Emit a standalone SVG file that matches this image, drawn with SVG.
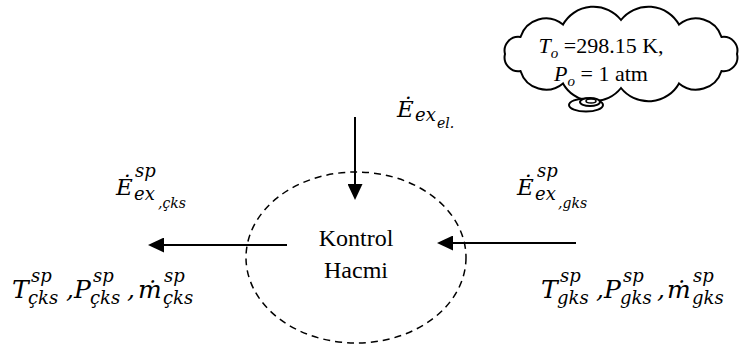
<svg xmlns="http://www.w3.org/2000/svg" width="747" height="347" viewBox="0 0 747 347">
<style>
.ln{stroke:#000;stroke-width:2;fill:none}
.rm{fill:#000;font-family:Liberation Serif, Times New Roman, serif}
.mt{font-style:italic;fill:#000;font-family:DejaVu Serif, Liberation Serif, serif}
</style>
<defs>
<marker id="ah" markerUnits="userSpaceOnUse" markerWidth="16" markerHeight="15" refX="0" refY="7.5" orient="auto" viewBox="0 0 16 15">
<path d="M0,0 L16,7.5 L0,15 z" fill="#000"/>
</marker>
</defs>
<rect width="747" height="347" fill="#fff"/>
<g id="cloud">
<path d="M737,54 A13.8,13.8 0 0 1 721.5,71 A26.6,26.6 0 0 1 679,83.4 A35,35 0 0 1 621,88 A35,35 0 0 1 563,83.4 A26.6,26.6 0 0 1 520.5,71 A13.8,13.8 0 0 1 505,54 A13.8,13.8 0 0 1 520.5,37 A26.6,26.6 0 0 1 563,24.6 A35,35 0 0 1 621,20 A35,35 0 0 1 679,24.6 A26.6,26.6 0 0 1 721.5,37 A13.8,13.8 0 0 1 737,54 Z" fill="#fff" stroke="#000" stroke-width="2"/>
<ellipse cx="586" cy="105" rx="17" ry="6.5" fill="#fff" stroke="#000" stroke-width="2"/>
<ellipse cx="590" cy="102" rx="10" ry="4" fill="#fff" stroke="#000" stroke-width="2"/>
<ellipse cx="591" cy="101" rx="5" ry="2" fill="#fff" stroke="#000" stroke-width="1.5"/>
<text class="rm" font-size="22" x="601" y="53" text-anchor="middle"><tspan font-style="italic">T</tspan><tspan font-style="italic" font-size="15" dy="5">o</tspan><tspan dy="-5"> =298.15 K,</tspan></text>
<text class="rm" font-size="22" x="601" y="81" text-anchor="middle"><tspan font-style="italic">P</tspan><tspan font-style="italic" font-size="15" dy="5">o</tspan><tspan dy="-5"> = 1 atm</tspan></text>
</g>
<g id="control-volume">
<ellipse cx="356" cy="257.5" rx="110" ry="85.5" fill="none" stroke="#000" stroke-width="1.5" stroke-dasharray="7 5"/>
<text class="rm" font-size="24" text-anchor="middle" x="356" y="246">Kontrol</text>
<text class="rm" font-size="24" text-anchor="middle" x="356" y="278">Hacmi</text>
</g>
<g id="connectors">
<line class="ln" x1="355" y1="117" x2="355" y2="184" marker-end="url(#ah)"/>
<line class="ln" x1="287" y1="245" x2="164" y2="245" marker-end="url(#ah)"/>
<line class="ln" x1="576" y1="243" x2="453" y2="243" marker-end="url(#ah)"/>
</g>
<g id="label-el">
<text class="mt" font-size="23" x="397" y="117">Ė</text>
<text class="mt" font-size="18" x="415" y="121">ex</text>
<text class="mt" font-size="14" x="437" y="128">el.</text>
</g>
<g id="label-exergy-out">
<text class="mt" font-size="23" x="116" y="195">Ė</text>
<text class="mt" font-size="18" x="135" y="177">sp</text>
<text class="mt" font-size="18" x="134" y="200">ex</text>
<text class="mt" font-size="14" x="158" y="208">,çks</text>
</g>
<g id="label-exergy-in">
<text class="mt" font-size="23" x="517" y="195">Ė</text>
<text class="mt" font-size="18" x="537" y="177">sp</text>
<text class="mt" font-size="18" x="535" y="200">ex</text>
<text class="mt" font-size="14" x="558" y="208">,gks</text>
</g>
<g id="label-state-out">
<text class="mt" font-size="25" x="12" y="298">T</text>
<text class="mt" font-size="18" x="31" y="282">sp</text>
<text class="mt" font-size="18" x="28" y="304">çks</text>
<text class="mt" font-size="25" x="66" y="298">,</text>
<text class="mt" font-size="25" x="74" y="298">P</text>
<text class="mt" font-size="18" x="93" y="282">sp</text>
<text class="mt" font-size="18" x="90" y="304">çks</text>
<text class="mt" font-size="25" x="127" y="298">,</text>
<text class="mt" font-size="25" x="138" y="298">ṁ</text>
<text class="mt" font-size="18" x="164" y="282">sp</text>
<text class="mt" font-size="18" x="163" y="304">çks</text>
</g>
<g id="label-state-in">
<text class="mt" font-size="25" x="541" y="298">T</text>
<text class="mt" font-size="18" x="560" y="282">sp</text>
<text class="mt" font-size="18" x="557" y="304">gks</text>
<text class="mt" font-size="25" x="596" y="298">,</text>
<text class="mt" font-size="25" x="604" y="298">P</text>
<text class="mt" font-size="18" x="623" y="282">sp</text>
<text class="mt" font-size="18" x="620" y="304">gks</text>
<text class="mt" font-size="25" x="657" y="298">,</text>
<text class="mt" font-size="25" x="667" y="298">ṁ</text>
<text class="mt" font-size="18" x="693" y="282">sp</text>
<text class="mt" font-size="18" x="692" y="304">gks</text>
</g>
</svg>
